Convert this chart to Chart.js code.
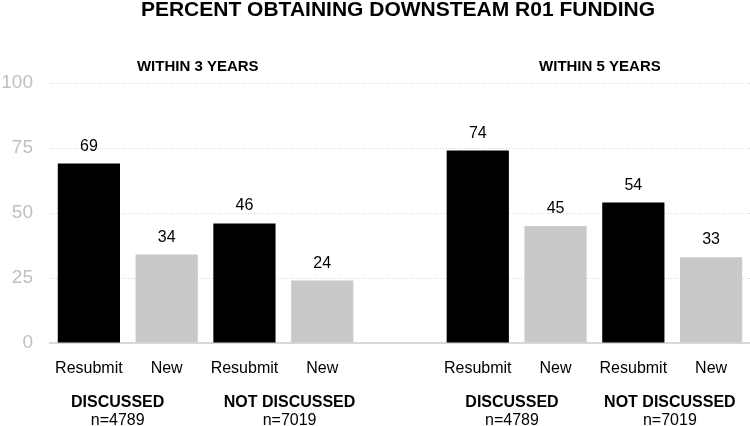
<!DOCTYPE html>
<html>
<head>
<meta charset="utf-8">
<script src="https://cdn.jsdelivr.net/npm/chart.js@4/dist/chart.umd.min.js"></script>
<style>
  html, body { margin: 0; padding: 0; background: #fff; }
  #wrap { width: 750px; height: 426px; position: relative; }
</style>
</head>
<body>
<div id="wrap"><canvas id="chart"></canvas></div>
<script>
// data
const chartTitle = "PERCENT OBTAINING DOWNSTEAM R01 FUNDING";
const periods = ["WITHIN 3 YEARS", "WITHIN 5 YEARS"];
const tickLabels = ["Resubmit", "New", "Resubmit", "New", "", "Resubmit", "New", "Resubmit", "New"];
const within3Years = [69, 34, 46, 24];
const within5Years = [74, 45, 54, 33];
const groupNames = ["DISCUSSED", "NOT DISCUSSED", "DISCUSSED", "NOT DISCUSSED"];
const groupCounts = ["n=4789", "n=7019", "n=4789", "n=7019"];
const yTicks = [0, 25, 50, 75, 100];

const FONT = "'Liberation Sans', Arial, sans-serif";
const values = [...within3Years, null, ...within5Years];
const barColors = tickLabels.map((t) => (t === "Resubmit" ? "#000000" : "#c9c9c9"));

// where the group captions sit, in category units
const periodAnchors = [1.4, 6.57];
const groupAnchors = [0.37, 2.58, 5.44, 7.47];

const textPlugin = {
  id: "texts",
  afterDatasetsDraw(chart) {
    const ctx = chart.ctx;
    const x = chart.scales.x;
    const area = chart.chartArea;
    ctx.save();
    ctx.fillStyle = "#000";
    ctx.textAlign = "center";
    ctx.textBaseline = "alphabetic";

    ctx.font = "bold 21px " + FONT;
    ctx.fillText(chartTitle, (area.left + area.right) / 2 - 2, 16);

    ctx.font = "bold 15px " + FONT;
    periods.forEach((p, i) => ctx.fillText(p, x.getPixelForValue(periodAnchors[i]), 71));

    ctx.font = "bold 16px " + FONT;
    groupNames.forEach((g, i) => ctx.fillText(g, x.getPixelForValue(groupAnchors[i]), 407));
    ctx.font = "16px " + FONT;
    groupCounts.forEach((n, i) => ctx.fillText(n, x.getPixelForValue(groupAnchors[i]), 425));

    // value labels above the bars
    ctx.font = "16px " + FONT;
    const meta = chart.getDatasetMeta(0);
    meta.data.forEach((bar, i) => {
      if (values[i] == null) return;
      ctx.fillText(String(values[i]), bar.x, bar.y - 13);
    });
    ctx.restore();
  },
};

new Chart(document.getElementById("chart"), {
  type: "bar",
  data: {
    labels: tickLabels,
    datasets: [
      {
        data: values,
        backgroundColor: barColors,
        barPercentage: 0.8,
        categoryPercentage: 1.0,
      },
    ],
  },
  options: {
    responsive: true,
    maintainAspectRatio: false,
    animation: false,
    layout: { padding: { top: 83, left: 0, right: 0, bottom: 0 } },
    plugins: {
      legend: { display: false },
      tooltip: { enabled: false },
    },
    scales: {
      x: {
        grid: { display: false, drawTicks: false },
        border: { color: "#d9d9d9", width: 2 },
        ticks: {
          color: "#000",
          font: { family: FONT, size: 16 },
          padding: 16,
          maxRotation: 0,
          autoSkip: false,
        },
        afterFit(scale) {
          scale.height = 83;
        },
      },
      y: {
        min: 0,
        max: 100,
        afterBuildTicks(scale) {
          scale.ticks = yTicks.map((v) => ({ value: v }));
        },
        grid: {
          color: (c) => (c.tick && c.tick.value === 0 ? "rgba(0,0,0,0)" : "#d4d4d4"),
          drawTicks: false,
          lineWidth: 1,
        },
        border: { display: false, dash: [1, 2] },
        ticks: {
          color: "#bfbfbf",
          font: { family: FONT, size: 19 },
          padding: 17,
        },
        afterFit(scale) {
          scale.width = 50;
        },
      },
    },
  },
  plugins: [textPlugin],
});
</script>
</body>
</html>
